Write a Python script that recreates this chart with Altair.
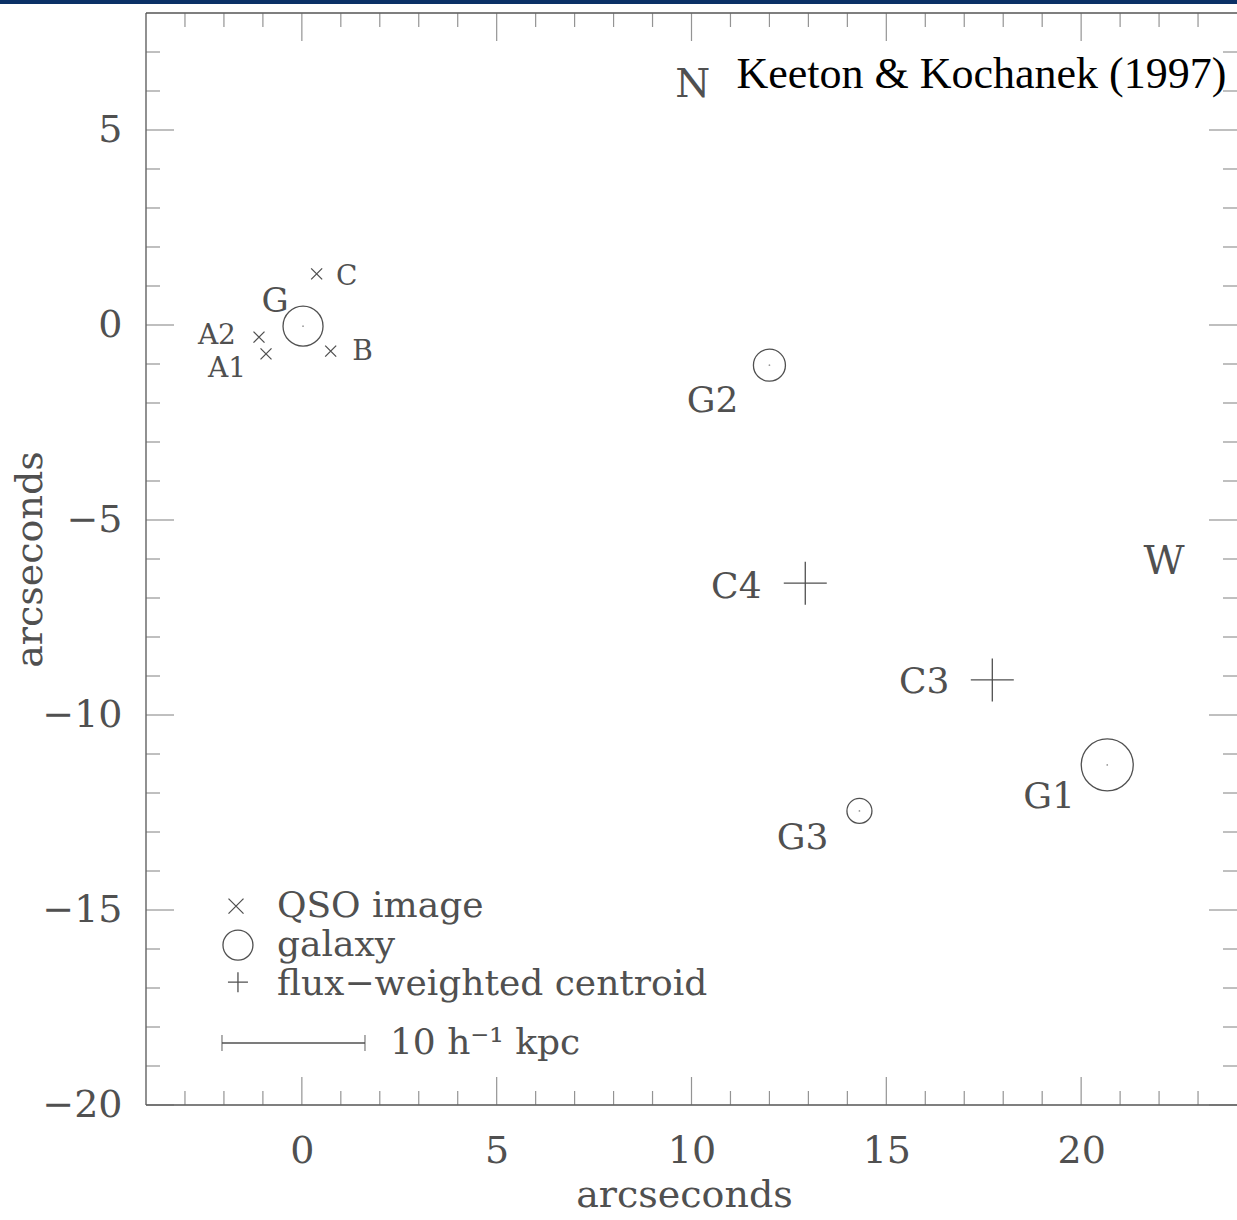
import altair as alt
import pandas as pd

# ---------------- data (arcseconds) ----------------
qso_names = ["A1", "A2", "B", "C"]
qso_x = [-0.92, -1.10, 0.74, 0.38]
qso_y = [-0.74, -0.31, -0.67, 1.31]
qso_label_x = [-1.92, -2.18, 1.56, 1.15]
qso_label_y = [-1.12, -0.27, -0.69, 1.23]

gal_names = ["G", "G1", "G2", "G3"]
gal_x = [0.03, 20.67, 12.00, 14.31]
gal_y = [-0.03, -11.28, -1.03, -12.46]
gal_diam = [40, 52, 32, 25]
gal_label_x = [-0.69, 19.18, 10.54, 12.85]
gal_label_y = [0.59, -12.10, -1.95, -13.15]
gal_label_size = [34, 36, 36, 36]

cen_names = ["C3", "C4"]
cen_x = [17.72, 12.92]
cen_y = [-9.10, -6.62]
cen_label_x = [15.97, 11.15]
cen_label_y = [-9.15, -6.72]

compass_text = ["N", "W"]
compass_x = [10.03, 22.13]
compass_y = [6.15, -6.08]

legend_text = ["QSO image", "galaxy", "flux\u2212weighted centroid"]
legend_sym_x = [-1.69, -1.64, -1.64]
legend_sym_y = [-14.90, -15.90, -16.85]
legend_text_x = [-0.64, -0.64, -0.64]
legend_text_y = [-14.90, -15.90, -16.90]

scalebar_x = [-2.05, 1.62]
scalebar_y = [-18.41]
scalebar_text = ["10 h\u207b\u00b9 kpc"]
scalebar_text_x = [2.26]

credit_text = ["Keeton & Kochanek (1997)"]
credit_x = [17.44]
credit_y = [6.41]

x_domain = [-4, 24]
y_domain = [-20, 8]
x_major = [0, 5, 10, 15, 20]
y_major = [-20, -15, -10, -5, 0, 5]
x_minor = [v for v in range(-3, 24) if v % 5 != 0]
y_minor = [v for v in range(-19, 8) if v % 5 != 0]

# ---------------- style ----------------
GRAY = "#505050"
FONT = "DejaVu Serif"
W, H = 1091, 1092

xs = alt.Scale(domain=x_domain, nice=False, zero=False)
ys = alt.Scale(domain=y_domain, nice=False, zero=False)
xaxis = alt.Axis(values=x_major, ticks=False, tickSize=0, domain=False, grid=False,
                 labelFont=FONT, labelFontSize=38, labelColor=GRAY, labelPadding=27,
                 title="arcseconds", titleFont=FONT, titleFontSize=38,
                 titleFontWeight="normal", titleColor=GRAY,
                 titleX=538, titleY=90, titleBaseline="middle", titleAlign="center")
yaxis = alt.Axis(values=y_major, ticks=False, tickSize=0, domain=False, grid=False,
                 labelFont=FONT, labelFontSize=38, labelColor=GRAY, labelPadding=24,
                 title="arcseconds", titleFont=FONT, titleFontSize=38,
                 titleFontWeight="normal", titleColor=GRAY,
                 titleX=-116, titleY=546, titleBaseline="middle", titleAlign="center",
                 titleAngle=270)


def X(f="x"):
    return alt.X(f, type="quantitative", scale=xs, axis=xaxis)


def Y(f="y"):
    return alt.Y(f, type="quantitative", scale=ys, axis=yaxis)


layers = []

# ---------------- frame (left, top, bottom; right edge lies at the crop) ----------------
frame_v = pd.DataFrame({"x": [x_domain[0]], "y": [y_domain[0]], "y2": [y_domain[1]]})
layers.append(alt.Chart(frame_v).mark_rule(color="#555", strokeWidth=1.3)
              .encode(x=X(), y=Y(), y2="y2"))
frame_h = pd.DataFrame({"x": [x_domain[0]] * 2, "x2": [x_domain[1]] * 2, "y": y_domain})
layers.append(alt.Chart(frame_h).mark_rule(color="#555", strokeWidth=1.3)
              .encode(x=X(), x2="x2", y=Y()))


# ---------------- frame ticks (inward) ----------------
def xticks(vals, y, length, sign):
    d = pd.DataFrame({"x": vals, "y": [y] * len(vals)})
    return alt.Chart(d).mark_tick(orient="vertical", size=length, thickness=1.2,
                                  color="#666", yOffset=sign * length / 2).encode(x=X(), y=Y())


def yticks(vals, x, length, sign):
    d = pd.DataFrame({"x": [x] * len(vals), "y": vals})
    return alt.Chart(d).mark_tick(orient="horizontal", size=length, thickness=1.2,
                                  color="#666", xOffset=sign * length / 2).encode(x=X(), y=Y())


layers += [
    xticks(x_minor, y_domain[0], 14, -1), xticks(x_major, y_domain[0], 28, -1),
    xticks(x_minor, y_domain[1], 14, 1), xticks(x_major, y_domain[1], 28, 1),
    yticks(y_minor, x_domain[0], 14, 1), yticks(y_major, x_domain[0], 28, 1),
    yticks(y_minor, x_domain[1], 14, -1), yticks(y_major, x_domain[1], 28, -1),
]

XPATH = "M-1,-1L1,1M-1,1L1,-1"
PPATH = "M-1,0L1,0M0,-1L0,1"

# ---------------- QSO images ----------------
qso = pd.DataFrame({"name": qso_names, "x": qso_x, "y": qso_y,
                    "lx": qso_label_x, "ly": qso_label_y})
layers.append(alt.Chart(qso).mark_point(shape=XPATH, size=121, filled=False,
                                        color=GRAY, strokeWidth=1.3, opacity=1)
              .encode(x=X(), y=Y()))
layers.append(alt.Chart(qso).mark_text(font=FONT, fontSize=28, color=GRAY,
                                       align="center", baseline="middle")
              .encode(x=X("lx"), y=Y("ly"), text="name:N"))

# ---------------- galaxies ----------------
gal = pd.DataFrame({"name": gal_names, "x": gal_x, "y": gal_y,
                    "s": [d * d for d in gal_diam],
                    "lx": gal_label_x, "ly": gal_label_y, "fs": gal_label_size})
layers.append(alt.Chart(gal).mark_point(shape="circle", filled=False, color=GRAY,
                                        strokeWidth=1.3, opacity=1)
              .encode(x=X(), y=Y(), size=alt.Size("s:Q", scale=None, legend=None)))
layers.append(alt.Chart(gal).mark_point(shape="circle", filled=True, color="#999",
                                        size=3, opacity=1)
              .encode(x=X(), y=Y()))
layers.append(alt.Chart(gal).mark_text(font=FONT, color=GRAY, align="center",
                                       baseline="middle")
              .encode(x=X("lx"), y=Y("ly"), text="name:N",
                      size=alt.Size("fs:Q", scale=None, legend=None)))

# ---------------- centroids ----------------
cen = pd.DataFrame({"name": cen_names, "x": cen_x, "y": cen_y,
                    "lx": cen_label_x, "ly": cen_label_y})
layers.append(alt.Chart(cen).mark_point(shape=PPATH, size=1849, filled=False,
                                        color=GRAY, strokeWidth=1.3, opacity=1)
              .encode(x=X(), y=Y()))
layers.append(alt.Chart(cen).mark_text(font=FONT, fontSize=36, color=GRAY,
                                       align="center", baseline="middle")
              .encode(x=X("lx"), y=Y("ly"), text="name:N"))

# ---------------- compass letters ----------------
comp = pd.DataFrame({"t": compass_text, "x": compass_x, "y": compass_y})
layers.append(alt.Chart(comp).mark_text(font=FONT, fontSize=40, color=GRAY,
                                        align="center", baseline="middle")
              .encode(x=X(), y=Y(), text="t:N"))

# ---------------- legend ----------------
leg = pd.DataFrame({"t": legend_text, "x": legend_sym_x, "y": legend_sym_y,
                    "tx": legend_text_x, "ty": legend_text_y})
layers.append(alt.Chart(leg.iloc[[0]]).mark_point(shape=XPATH, size=225, filled=False,
                                                  color=GRAY, strokeWidth=1.3, opacity=1)
              .encode(x=X(), y=Y()))
layers.append(alt.Chart(leg.iloc[[1]]).mark_point(shape="circle", size=900, filled=False,
                                                  color=GRAY, strokeWidth=1.3, opacity=1)
              .encode(x=X(), y=Y()))
layers.append(alt.Chart(leg.iloc[[2]]).mark_point(shape=PPATH, size=400, filled=False,
                                                  color=GRAY, strokeWidth=1.3, opacity=1)
              .encode(x=X(), y=Y()))
layers.append(alt.Chart(leg).mark_text(font=FONT, fontSize=36, color=GRAY,
                                       align="left", baseline="middle")
              .encode(x=X("tx"), y=Y("ty"), text="t:N"))

# scale bar
sb = pd.DataFrame({"x": [scalebar_x[0]], "x2": [scalebar_x[1]], "y": scalebar_y})
layers.append(alt.Chart(sb).mark_rule(color=GRAY, strokeWidth=1.3)
              .encode(x=X(), x2="x2", y=Y()))
sbc = pd.DataFrame({"x": scalebar_x, "y": scalebar_y * 2})
layers.append(alt.Chart(sbc).mark_tick(orient="vertical", size=16, thickness=1.3,
                                       color=GRAY)
              .encode(x=X(), y=Y()))
sbt = pd.DataFrame({"t": scalebar_text, "x": scalebar_text_x, "y": scalebar_y})
layers.append(alt.Chart(sbt).mark_text(font=FONT, fontSize=36, color=GRAY,
                                       align="left", baseline="middle")
              .encode(x=X(), y=Y(), text="t:N"))

# ---------------- credit ----------------
cr = pd.DataFrame({"t": credit_text, "x": credit_x, "y": credit_y})
layers.append(alt.Chart(cr).mark_text(font="Liberation Serif", fontSize=44, color="#000",
                                      align="center", baseline="middle")
              .encode(x=X(), y=Y(), text="t:N"))

# decorative top band
band = pd.DataFrame({"x": [0]})
layers.append(alt.Chart(band).mark_rect(color="#0b3166")
              .encode(x=alt.value(-146), x2=alt.value(W), y=alt.value(-13), y2=alt.value(-9)))

chart = alt.layer(*layers).properties(
    width=W, height=H,
    padding={"left": 146, "top": 13, "right": 0, "bottom": 115},
    autosize=alt.AutoSizeParams(type="none"),
    background="white",
).configure_view(stroke=None)

chart.save("out.html", embed_options={"renderer": "svg", "actions": False})
